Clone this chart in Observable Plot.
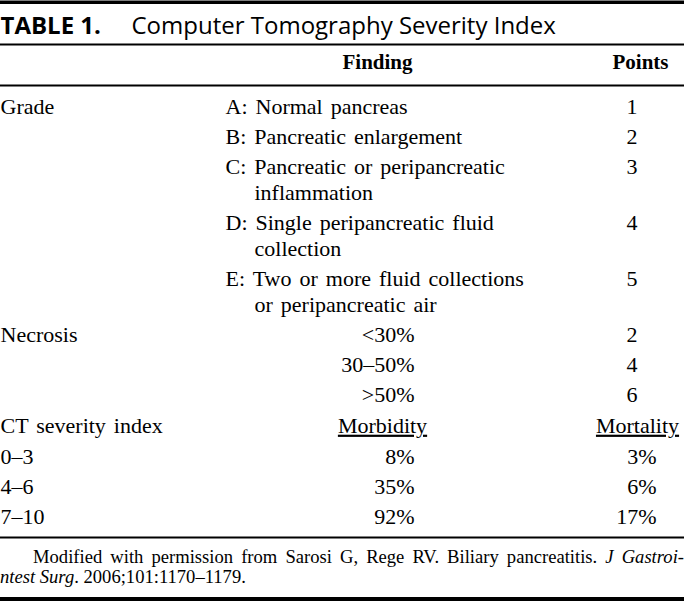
<!DOCTYPE html>
<html>
<head>
<meta charset="utf-8">
<script src="https://cdn.jsdelivr.net/npm/d3@7"></script>
<script src="https://cdn.jsdelivr.net/npm/@observablehq/plot@0.6"></script>
<style>
  html, body { margin: 0; padding: 0; background: #fff; }
  #wrap { width: 684px; }
  #note { font-family: "Liberation Serif", serif; font-size: 18.6px; line-height: 20px; color: #000;
          padding-top: 7px; padding-bottom: 10px; border-bottom: 4px solid #000; height: 40px; }
  #note .l1 { text-indent: 33px; text-align: justify; text-align-last: justify; }
  #note .l2 { text-align: left; }
</style>
</head>
<body>
<div id="wrap"></div>
<script>
// ---------- data ----------
const titleLabel = "TABLE 1.";
const titleText = "Computer Tomography Severity Index";
const columnHeaders = ["Finding", "Points"];
const gradeLabel = "Grade";
const gradeFindings = [
  ["A: Normal pancreas"],
  ["B: Pancreatic enlargement"],
  ["C: Pancreatic or peripancreatic", "inflammation"],
  ["D: Single peripancreatic fluid", "collection"],
  ["E: Two or more fluid collections", "or peripancreatic air"]
];
const gradePoints = [1, 2, 3, 4, 5];
const necrosisLabel = "Necrosis";
const necrosisLevels = ["<30%", "30–50%", ">50%"];
const necrosisPoints = [2, 4, 6];
const ctLabel = "CT severity index";
const outcomeHeaders = ["Morbidity", "Mortality"];
const ctRanges = ["0–3", "4–6", "7–10"];
const morbidity = [8, 35, 92];   // %
const mortality = [3, 6, 17];    // %
const footnoteLine1 = [
  {text: "Modified with permission from Sarosi G, Rege RV. Biliary pancreatitis. ", italic: false},
  {text: "J Gastroi-", italic: true}
];
const footnoteLine2 = [
  {text: "ntest Surg", italic: true},
  {text: ". 2006;101:1170–1179.", italic: false}
];

// ---------- layout ----------
const W = 684, H = 540;
const col = {
  label: 0, finding: 225, findingWrap: 254, valueEnd: 414, pointsEnd: 637,
  findingHead: 377, pointsHead: 640, morbHead: 382, mortHead: 637, mortEnd: 656,
  titleText: 131
};
const titleBase = 33, headBase = 68, firstBase = 113, rowStep = 30.3, wrapStep = 25.6;
const bodySize = 22;

const startText = [], endText = [], midUnderline = [];
let y = firstBase;
gradeFindings.forEach((lines, i) => {
  if (i === 0) startText.push({x: col.label, y, text: gradeLabel});
  lines.forEach((t, j) => startText.push({x: j ? col.findingWrap : col.finding, y: y + j * wrapStep, text: t}));
  endText.push({x: col.pointsEnd, y, text: String(gradePoints[i])});
  y += rowStep + (lines.length - 1) * wrapStep;
});
necrosisLevels.forEach((lv, i) => {
  if (i === 0) startText.push({x: col.label, y, text: necrosisLabel});
  endText.push({x: col.valueEnd, y, text: lv});
  endText.push({x: col.pointsEnd, y, text: String(necrosisPoints[i])});
  y += rowStep;
});
startText.push({x: col.label, y, text: ctLabel});
midUnderline.push({x: col.morbHead, y, text: outcomeHeaders[0]});
midUnderline.push({x: col.mortHead, y, text: outcomeHeaders[1]});
y += rowStep + 0.5;
ctRanges.forEach((r, i) => {
  startText.push({x: col.label, y, text: r});
  endText.push({x: col.valueEnd, y, text: morbidity[i] + "%"});
  endText.push({x: col.mortEnd, y, text: mortality[i] + "%"});
  y += rowStep;
});
const lastBase = y - rowStep;

const headers = [
  {x: col.findingHead, y: headBase, text: columnHeaders[0]},
  {x: col.pointsHead, y: headBase, text: columnHeaders[1]}
];
const thinRules = [{y: 44}, {y: 85}, {y: lastBase + 13.5}];
const thickRules = [{y: 1.75}];

const svg = Plot.plot({
  width: W, height: H,
  margin: 0, marginTop: 0, marginRight: 0, marginBottom: 0, marginLeft: 0,
  x: {type: "linear", domain: [0, W], range: [0, W], axis: null},
  y: {type: "linear", domain: [0, H], range: [0, H], axis: null},
  style: {fontFamily: "'Liberation Serif', 'Times New Roman', serif", fontSize: "22px", background: "#fff", color: "#000", overflow: "visible"},
  marks: [
    Plot.ruleY(thickRules, {y: "y", stroke: "#000", strokeWidth: 3.5}),
    Plot.ruleY(thinRules, {y: "y", stroke: "#000", strokeWidth: 2}),
    Plot.text([{x: 0, y: titleBase, text: titleLabel}], {x: "x", y: "y", text: "text", textAnchor: "start", lineAnchor: "bottom",
      fontFamily: "'Open Sans', 'Noto Sans', sans-serif", fontWeight: "bold", fontSize: 24}),
    Plot.text([{x: col.titleText, y: titleBase, text: titleText}], {x: "x", y: "y", text: "text", textAnchor: "start", lineAnchor: "bottom",
      fontFamily: "'Open Sans', 'Noto Sans', sans-serif", fontSize: 24}),
    Plot.text(headers, {x: "x", y: "y", text: "text", textAnchor: "middle", lineAnchor: "bottom", fontWeight: "bold", fontSize: 21}),
    Plot.text(startText, {x: "x", y: "y", text: "text", textAnchor: "start", lineAnchor: "bottom", fontSize: bodySize}),
    Plot.text(endText, {x: "x", y: "y", text: "text", textAnchor: "end", lineAnchor: "bottom", fontSize: bodySize}),
    Plot.text(midUnderline, {x: "x", y: "y", text: "text", textAnchor: "middle", lineAnchor: "bottom", fontSize: bodySize})
  ]
});
const sel = d3.select(svg).selectAll("text");
sel.filter(function() { return outcomeHeaders.includes(this.textContent); })
  .style("text-decoration", "underline");
sel.filter(function() { return startText.some(d => d.text === this.textContent); })
  .style("word-spacing", "2.5px");
svg.style.display = "block";

const wrap = document.getElementById("wrap");
wrap.appendChild(svg);
const note = d3.select(wrap).append("div").attr("id", "note");
[[footnoteLine1, "l1"], [footnoteLine2, "l2"]].forEach(([parts, cls]) => {
  const line = note.append("div").attr("class", cls);
  parts.forEach(p => line.append(p.italic ? "i" : "span").text(p.text));
});
</script>
</body>
</html>
